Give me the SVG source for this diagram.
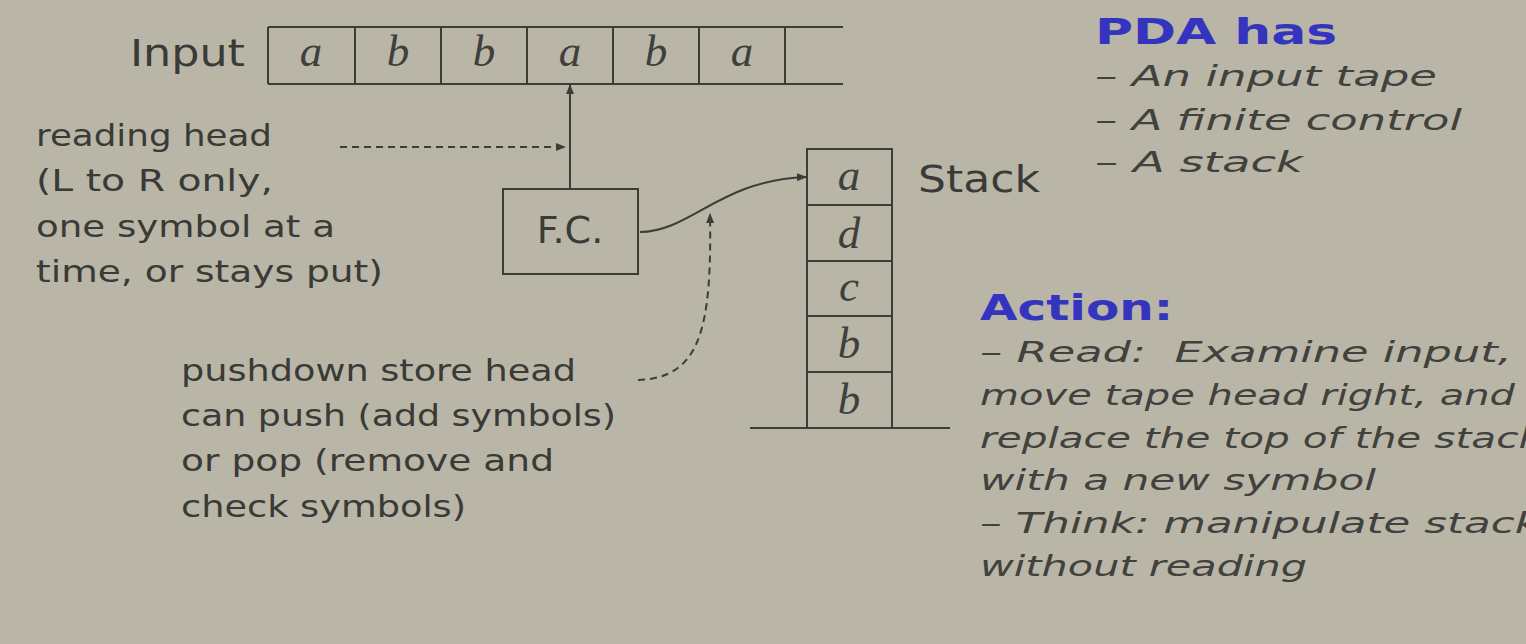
<svg xmlns="http://www.w3.org/2000/svg" width="1526" height="644" viewBox="0 0 1526 644">
<style>
.bg{fill:#b9b6a7}
.ln{stroke:#3c3c38;stroke-width:2;fill:none}
.cell{fill:none;stroke:#3c3c38;stroke-width:2}
.sym{font-family:"Liberation Serif",serif;font-style:italic;font-size:45px;fill:#3f3f3b;text-anchor:middle}
.lbl{font-family:"DejaVu Sans","Liberation Sans",sans-serif;font-size:38px;fill:#3a3a36}
.note{font-family:"DejaVu Sans","Liberation Sans",sans-serif;font-size:31px;fill:#3a3a36}
.it{font-family:"DejaVu Sans","Liberation Sans",sans-serif;font-style:italic;font-size:29px;fill:#41413d}
.hd{font-family:"DejaVu Sans","Liberation Sans",sans-serif;font-weight:bold;font-size:36px;fill:#3434bf}
.dash{stroke:#3c3c38;stroke-width:2;fill:none;stroke-dasharray:7 5}
</style>
<defs>
<marker id="ah" viewBox="0 0 10 10" refX="9" refY="5" markerWidth="5" markerHeight="5" orient="auto" markerUnits="strokeWidth">
<path d="M0,1 L10,5 L0,9 z" fill="#3c3c38"/>
</marker>
</defs>
<rect class="bg" x="0" y="0" width="1526" height="644"/>

<g id="input-tape">
<text class="lbl" x="130" y="66" textLength="115" lengthAdjust="spacingAndGlyphs">Input</text>
<line class="ln" x1="268" y1="27" x2="843" y2="27"/>
<line class="ln" x1="268" y1="84" x2="843" y2="84"/>
<line class="ln" x1="268" y1="27" x2="268" y2="84"/>
<line class="ln" x1="355" y1="27" x2="355" y2="84"/>
<line class="ln" x1="441" y1="27" x2="441" y2="84"/>
<line class="ln" x1="527" y1="27" x2="527" y2="84"/>
<line class="ln" x1="613" y1="27" x2="613" y2="84"/>
<line class="ln" x1="699" y1="27" x2="699" y2="84"/>
<line class="ln" x1="785" y1="27" x2="785" y2="84"/>
<text class="sym" x="311" y="66">a</text>
<text class="sym" x="398" y="66">b</text>
<text class="sym" x="484" y="66">b</text>
<text class="sym" x="570" y="66">a</text>
<text class="sym" x="656" y="66">b</text>
<text class="sym" x="742" y="66">a</text>
</g>

<g id="fc">
<rect class="cell" x="503" y="189" width="135" height="85"/>
<text class="lbl" x="570" y="243" text-anchor="middle" font-size="41">F.C.</text>
</g>

<g id="stack">
<rect class="cell" x="807" y="149" width="85" height="56"/>
<rect class="cell" x="807" y="205" width="85" height="56"/>
<rect class="cell" x="807" y="261" width="85" height="55"/>
<rect class="cell" x="807" y="316" width="85" height="56"/>
<rect class="cell" x="807" y="372" width="85" height="56"/>
<line class="ln" x1="750" y1="428" x2="950" y2="428"/>
<text class="sym" x="849" y="190">a</text>
<text class="sym" x="849" y="248">d</text>
<text class="sym" x="849" y="301">c</text>
<text class="sym" x="849" y="358">b</text>
<text class="sym" x="849" y="414">b</text>
<text class="lbl" x="918" y="192" textLength="122" lengthAdjust="spacingAndGlyphs">Stack</text>
</g>

<g id="connectors">
<line class="ln" x1="570" y1="189" x2="570" y2="85" marker-end="url(#ah)"/>
<line class="dash" x1="340" y1="147" x2="565" y2="147" marker-end="url(#ah)"/>
<path class="ln" d="M640,232 C690,232 720,180 806,177" marker-end="url(#ah)"/>
<path class="dash" d="M638,380 C700,378 712,330 710,214" marker-end="url(#ah)"/>
</g>

<g id="reading-head-note">
<text class="note" x="36" y="146" textLength="236" lengthAdjust="spacingAndGlyphs">reading head</text>
<text class="note" x="36" y="191" textLength="237" lengthAdjust="spacingAndGlyphs">(L to R only,</text>
<text class="note" x="36" y="237" textLength="299" lengthAdjust="spacingAndGlyphs">one symbol at a</text>
<text class="note" x="36" y="282" textLength="347" lengthAdjust="spacingAndGlyphs">time, or stays put)</text>
</g>

<g id="pushdown-note">
<text class="note" x="181" y="381" textLength="395" lengthAdjust="spacingAndGlyphs">pushdown store head</text>
<text class="note" x="181" y="426" textLength="435" lengthAdjust="spacingAndGlyphs">can push (add symbols)</text>
<text class="note" x="181" y="471" textLength="373" lengthAdjust="spacingAndGlyphs">or pop (remove and</text>
<text class="note" x="181" y="517" textLength="285" lengthAdjust="spacingAndGlyphs">check symbols)</text>
</g>

<g id="pda-has">
<text class="hd" x="1095" y="44" textLength="242" lengthAdjust="spacingAndGlyphs">PDA has</text>
<text class="it" x="1095" y="86" textLength="342" lengthAdjust="spacingAndGlyphs">– An input tape</text>
<text class="it" x="1095" y="130" textLength="367" lengthAdjust="spacingAndGlyphs">– A finite control</text>
<text class="it" x="1095" y="172" textLength="208" lengthAdjust="spacingAndGlyphs">– A stack</text>
</g>

<g id="action">
<text class="hd" x="980" y="320" textLength="193" lengthAdjust="spacingAndGlyphs">Action:</text>
<text class="it" x="980" y="362" textLength="532" lengthAdjust="spacingAndGlyphs">– Read:&#160; Examine input,</text>
<text class="it" x="980" y="405" textLength="535" lengthAdjust="spacingAndGlyphs">move tape head right, and</text>
<text class="it" x="980" y="448" textLength="562" lengthAdjust="spacingAndGlyphs">replace the top of the stack</text>
<text class="it" x="980" y="490" textLength="396" lengthAdjust="spacingAndGlyphs">with a new symbol</text>
<text class="it" x="980" y="533" textLength="560" lengthAdjust="spacingAndGlyphs">– Think: manipulate stack</text>
<text class="it" x="980" y="576" textLength="327" lengthAdjust="spacingAndGlyphs">without reading</text>
</g>
</svg>
